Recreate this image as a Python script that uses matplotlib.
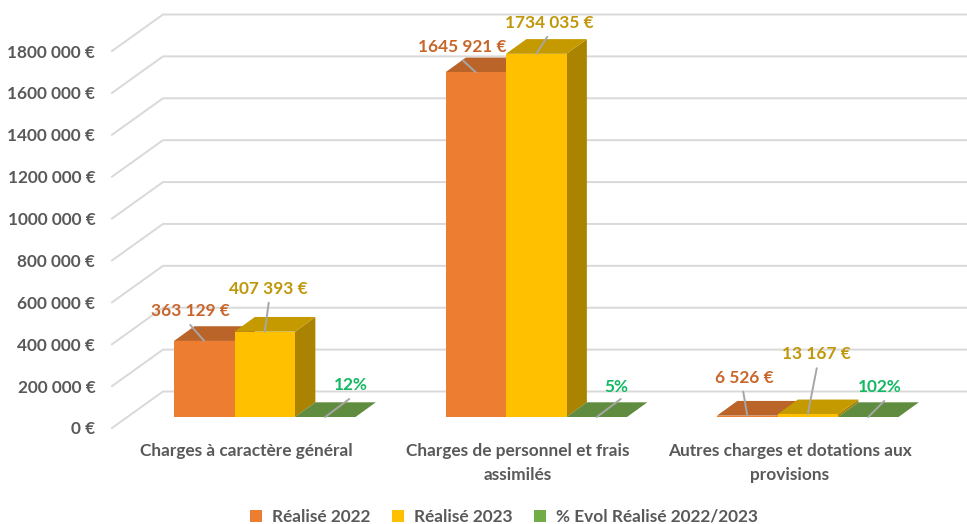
import matplotlib
matplotlib.use("Agg")
import matplotlib.pyplot as plt
from matplotlib.patches import Patch, Polygon

plt.rcParams["font.family"] = ["Lato", "DejaVu Sans"]

CATEGORIES = [
    "Charges à caractère général",
    "Charges de personnel et frais\nassimilés",
    "Autres charges et dotations aux\nprovisions",
]
REALISE_2022 = [363129, 1645921, 6526]
REALISE_2023 = [407393, 1734035, 13167]
EVOL_PCT = [0.12, 0.05, 1.02]
LABELS_2022 = ["363 129 €", "1645 921 €", "6 526 €"]
LABELS_2023 = ["407 393 €", "1734 035 €", "13 167 €"]
LABELS_EVOL = ["12%", "5%", "102%"]
SERIES_NAMES = ["Réalisé 2022", "Réalisé 2023", "% Evol Réalisé 2022/2023"]
Y_TICKS = [0, 200000, 400000, 600000, 800000, 1000000, 1200000, 1400000, 1600000, 1800000]
Y_TICK_LABELS = ["0 €", "200 000 €", "400 000 €", "600 000 €", "800 000 €",
                 "1000 000 €", "1200 000 €", "1400 000 €", "1600 000 €", "1800 000 €"]

W, H = 967, 524
AX_LEFT, AX_BOTTOM = 112, 428
PX_PER_EURO = 377 / 1800000
PX_PER_GROUP = 271.5
GROUP0_X = 264.75
BAR_W = 60.5 / PX_PER_GROUP
FONT_SIZE = 12.4

# (front, top, side) colours for each series
COLORS = [
    ("#ED7D31", "#BA6429", "#A85A24"),
    ("#FFC000", "#C49A00", "#AA8300"),
    ("#70AD47", "#5F8C3E", "#5F8C3E"),
]
TEXT_COLORS = ["#C8652A", "#BF9708", "#12B862"]
LEGEND_COLORS = ["#ED7D31", "#FFC000", "#70AD47"]
GRID = "#D9D9D9"
LEADER = "#A6A6A6"
TEXT_GREY = "#595959"

# leader end, then label centre, in pixels from the top centre of each bar front
LEADER_OFFSETS = [
    [(-14, 16), (4, 29), (24, 18)],
    [(-13, 12), (11, 17), (24, 18)],
    [(-4, 24), (9, 46), (16, 16)],
]
LABEL_OFFSETS = [
    [(-14, 30), (4, 43), (26, 32)],
    [(-14, 25), (13, 31), (20, 30)],
    [(-3, 38), (9, 60), (12, 30)],
]


def depth_x(px):
    return px * 1.385 / PX_PER_GROUP


def depth_y(px):
    return px / PX_PER_EURO


def draw_bar(ax, x, value, colors, base_px=11, depth_px=14.7):
    x1 = x + BAR_W
    v0 = depth_y(base_px)
    v1 = v0 + value
    dx, dv = depth_x(depth_px), depth_y(depth_px)
    ax.add_patch(Polygon([(x1, v0), (x1 + dx, v0 + dv), (x1 + dx, v1 + dv), (x1, v1)],
                         fc=colors[2], ec="none", zorder=3))
    ax.add_patch(Polygon([(x, v1), (x + dx, v1 + dv), (x1 + dx, v1 + dv), (x1, v1)],
                         fc=colors[1], ec="none", zorder=3))
    ax.add_patch(Polygon([(x, v0), (x1, v0), (x1, v1), (x, v1)],
                         fc=colors[0], ec="none", zorder=3))
    return x + BAR_W / 2, v1


def main():
    fig = plt.figure(figsize=(W / 100, H / 100), dpi=100)
    ax = fig.add_axes([AX_LEFT / W, (H - AX_BOTTOM) / H, (W - AX_LEFT) / W, AX_BOTTOM / H])
    ax.set_xlim((AX_LEFT - GROUP0_X) / PX_PER_GROUP, (W - GROUP0_X) / PX_PER_GROUP)
    ax.set_ylim(0, AX_BOTTOM / PX_PER_EURO)
    for spine in ax.spines.values():
        spine.set_visible(False)

    # back wall and left wall of the 3D box
    wall_x = (AX_LEFT - GROUP0_X) / PX_PER_GROUP
    wall_dx, wall_dv = 51 / PX_PER_GROUP, depth_y(36.5)
    for tick in Y_TICKS:
        ax.plot([wall_x, wall_x + wall_dx, ax.get_xlim()[1]],
                [tick, tick + wall_dv, tick + wall_dv],
                color=GRID, lw=1.4, zorder=1, clip_on=False, solid_joinstyle="miter")

    ax.set_yticks(Y_TICKS, Y_TICK_LABELS)
    ax.set_xticks([g - 18 / PX_PER_GROUP for g in range(len(CATEGORIES))], CATEGORIES)
    ax.tick_params(axis="both", length=0, labelcolor=TEXT_GREY, labelsize=FONT_SIZE)
    ax.tick_params(axis="y", pad=12)
    ax.tick_params(axis="x", pad=11)
    for lab in ax.get_xticklabels() + ax.get_yticklabels():
        lab.set_fontweight("bold")
        lab.set_linespacing(1.6)

    series = [REALISE_2022, REALISE_2023, EVOL_PCT]
    labels = [LABELS_2022, LABELS_2023, LABELS_EVOL]
    for g in range(len(CATEGORIES)):
        left = g - 1.5 * BAR_W
        for s, values in enumerate(series):
            tx, ty = draw_bar(ax, left + s * BAR_W, values[g], COLORS[s])
            ax.annotate("", xy=(tx, ty), xytext=LEADER_OFFSETS[g][s], textcoords="offset pixels",
                        arrowprops=dict(arrowstyle="-", color=LEADER, lw=1.4, shrinkA=0, shrinkB=0),
                        zorder=4)
            ax.annotate(labels[s][g], xy=(tx, ty), xytext=LABEL_OFFSETS[g][s],
                        textcoords="offset pixels", ha="center", va="center",
                        color=TEXT_COLORS[s], fontsize=FONT_SIZE, fontweight="bold", zorder=5)

    handles = [Patch(fc=c, ec="none", label=n) for c, n in zip(LEGEND_COLORS, SERIES_NAMES)]
    fig.legend(handles=handles, loc="center", bbox_to_anchor=(504 / W, 1 - 517 / H), ncol=3,
               frameon=False, handlelength=0.72, handleheight=0.72,
               handletextpad=0.6, columnspacing=1.2, borderpad=0,
               prop={"weight": "bold", "size": FONT_SIZE}, labelcolor=TEXT_GREY)

    fig.savefig("out.png", dpi=100)
    plt.close(fig)


if __name__ == "__main__":
    main()
